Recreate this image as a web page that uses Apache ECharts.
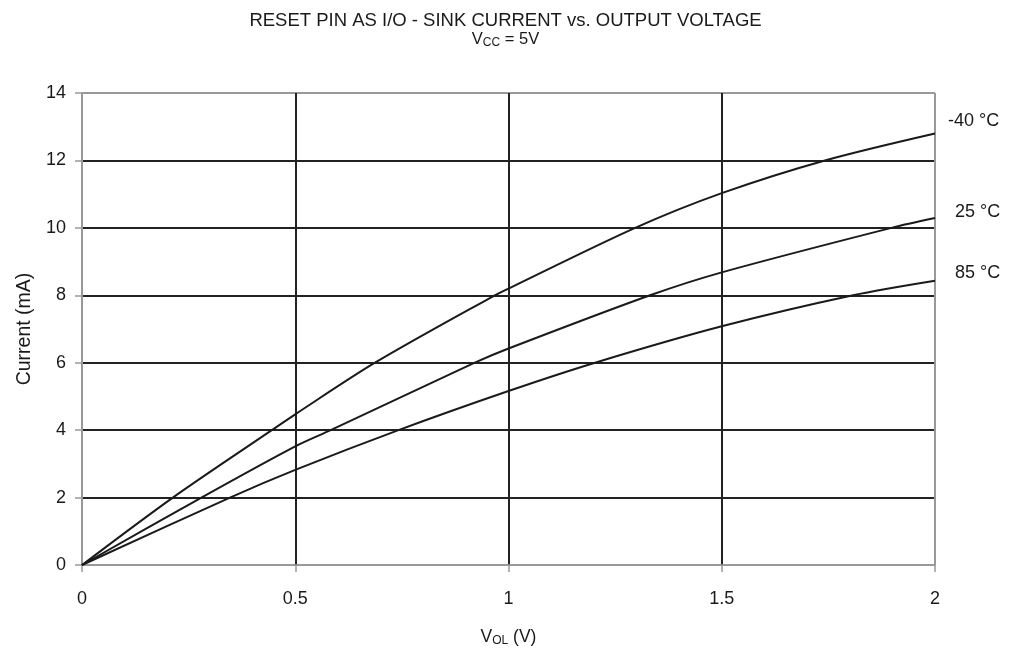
<!DOCTYPE html>
<html>
<head>
<meta charset="utf-8">
<script src="https://cdn.jsdelivr.net/npm/echarts@6/dist/echarts.min.js"></script>
<style>html,body{margin:0;padding:0;background:#fff}#c{width:1011px;height:652px}</style>
</head>
<body>
<div id="c"></div>
<script>
const xTicks = [0, 0.5, 1, 1.5, 2];
const yTicks = [0, 2, 4, 6, 8, 10, 12, 14];
const seriesNames = ['-40 °C', '25 °C', '85 °C'];
const vM40 = [0, 0.213, 0.445, 0.5, 0.687, 0.968, 1.0, 1.297, 1.5, 1.742, 2.0];
const iM40 = [0, 2, 4, 4.47, 6, 8, 8.2, 10, 11.03, 12, 12.8];
const v25 = [0, 0.28, 0.5, 0.583, 0.921, 1.0, 1.332, 1.5, 1.898, 2.0];
const i25 = [0, 2, 3.52, 4, 6, 6.42, 8, 8.68, 10, 10.29];
const v85 = [0, 0.347, 0.5, 0.742, 1.0, 1.203, 1.5, 1.808, 2.0];
const i85 = [0, 2, 2.82, 4, 5.16, 6, 7.08, 8, 8.43];

const pairs = (xs, ys) => xs.map((x, i) => [x, ys[i]]);
const font = 'Liberation Sans, Arial, sans-serif';
const chart = echarts.init(document.getElementById('c'));
const mk = (name, data, off) => ({
  name, type: 'line', data, smooth: 0.3, symbol: 'none',
  lineStyle: { color: '#1a1a1a', width: 2 },
  endLabel: { show: true, formatter: name, color: '#1a1a1a', fontSize: 18, fontFamily: font, offset: off },
  animation: false
});
chart.setOption({
  animation: false,
  title: {
    text: 'RESET PIN AS I/O - SINK CURRENT vs. OUTPUT VOLTAGE',
    subtext: '{v|V}{s|CC}{v| = 5V}',
    left: 'center', top: 6, itemGap: 0,
    textStyle: { fontSize: 18.5, fontWeight: 'normal', color: '#1a1a1a', fontFamily: font },
    subtextStyle: { rich: {
      v: { fontSize: 16.5, color: '#1a1a1a', fontFamily: font },
      s: { fontSize: 12, color: '#1a1a1a', fontFamily: font, padding: [7, 0, 0, 0] }
    } }
  },
  grid: { left: 82, right: 76, top: 93, bottom: 86, show: false },
  xAxis: {
    type: 'value', min: 0, max: 2, interval: 0.5,
    name: '{v|V}{s|OL}{v| (V)}', nameLocation: 'middle', nameGap: 62,
    nameTextStyle: { rich: {
      v: { fontSize: 17.5, color: '#1a1a1a', fontFamily: font },
      s: { fontSize: 12, color: '#1a1a1a', fontFamily: font, padding: [8, 0, 0, 0] }
    } },
    axisLine: { show: true, lineStyle: { color: '#999', width: 1.5 } },
    axisTick: { show: true, length: 7, lineStyle: { color: '#999', width: 1.5 } },
    axisLabel: { color: '#1a1a1a', fontSize: 18, fontFamily: font, margin: 25,
      formatter: v => xTicks.includes(v) ? String(v) : '' },
    splitLine: { show: true, lineStyle: { color: ['#999', '#222', '#222', '#222', '#999'], width: 2 } }
  },
  yAxis: {
    type: 'value', min: 0, max: 14, interval: 2,
    name: 'Current (mA)', nameLocation: 'middle', nameGap: 46,
    nameTextStyle: { fontSize: 19.5, color: '#1a1a1a', fontFamily: font },
    axisLine: { show: true, lineStyle: { color: '#999', width: 1.5 } },
    axisTick: { show: true, length: 7, lineStyle: { color: '#999', width: 1.5 } },
    axisLabel: { color: '#1a1a1a', fontSize: 18, fontFamily: font, margin: 16,
      formatter: v => yTicks.includes(v) ? String(v) : '' },
    splitLine: { show: true, lineStyle: { color: ['#999', '#222', '#222', '#222', '#222', '#222', '#222', '#999'], width: 2 } }
  },
  series: [
    mk(seriesNames[0], pairs(vM40, iM40), [5, -12]),
    mk(seriesNames[1], pairs(v25, i25), [12, -6]),
    mk(seriesNames[2], pairs(v85, i85), [12, -8])
  ]
});
</script>
</body>
</html>
